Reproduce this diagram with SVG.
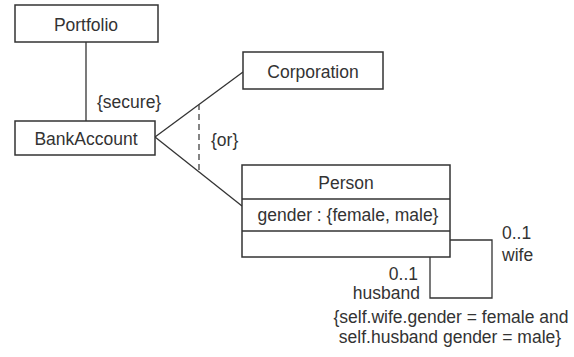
<svg xmlns="http://www.w3.org/2000/svg" width="574" height="357" viewBox="0 0 574 357">
<style>
.box{fill:#ffffff;stroke:#333333;stroke-width:1.5}
.ln{fill:none;stroke:#333333;stroke-width:1.3}
.dash{fill:none;stroke:#444444;stroke-width:1.3;stroke-dasharray:6 4}
text{font-family:"Liberation Sans",Arial,sans-serif;font-size:17.5px;fill:#333333}
.c{text-anchor:middle}
.e{text-anchor:end}
</style>
<rect width="574" height="357" fill="#ffffff"/>
<g id="connectors">
<line class="ln" x1="86" y1="42" x2="86" y2="121"/>
<line class="ln" x1="155" y1="137" x2="243" y2="72"/>
<line class="ln" x1="155" y1="137" x2="242" y2="206"/>
<line class="dash" x1="199" y1="104" x2="199" y2="170"/>
<path class="ln" d="M450 240 H492 V298 H430 V257"/>
<text x="97" y="108">{secure}</text>
<text x="211" y="146">{or}</text>
<text x="502" y="239">0..1</text>
<text x="502" y="261">wife</text>
<text class="e" x="418" y="280">0..1</text>
<text class="e" x="420" y="299">husband</text>
<text class="c" x="451" y="323">{self.wife.gender = female and</text>
<text class="c" x="450" y="343">self.husband gender = male}</text>
</g>
<g id="portfolio">
<rect class="box" x="15" y="5" width="143" height="37"/>
<text class="c" x="86" y="31">Portfolio</text>
</g>
<g id="bankaccount">
<rect class="box" x="15" y="121" width="140" height="34"/>
<text class="c" x="86" y="145">BankAccount</text>
</g>
<g id="corporation">
<rect class="box" x="243" y="52" width="140" height="37"/>
<text class="c" x="313" y="78">Corporation</text>
</g>
<g id="person">
<rect class="box" x="242" y="165" width="208" height="92"/>
<line class="ln" x1="242" y1="199" x2="450" y2="199"/>
<line class="ln" x1="242" y1="231" x2="450" y2="231"/>
<text class="c" x="346" y="189">Person</text>
<text class="c" x="348" y="221">gender : {female, male}</text>
</g>
</svg>
